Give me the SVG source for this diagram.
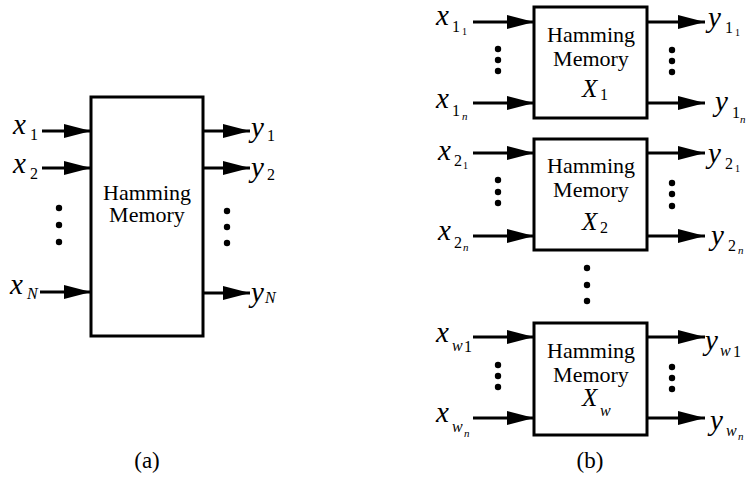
<svg xmlns="http://www.w3.org/2000/svg" width="746" height="481" viewBox="0 0 746 481">
<defs>
<marker id="ah" markerUnits="userSpaceOnUse" markerWidth="28" markerHeight="14" refX="27" refY="7" orient="auto" viewBox="0 0 28 14">
<path d="M0,0 L27,7 L0,14 z" fill="#000"/>
</marker>
<style>
.box{fill:#fff;stroke:#000;stroke-width:3}
.arr{stroke:#000;stroke-width:3;fill:none;marker-end:url(#ah)}
.t{font-family:"Liberation Serif","Times New Roman",serif;font-size:22px;fill:#000;text-anchor:middle}
.v{font-family:"Liberation Serif","Times New Roman",serif;font-size:29px;font-style:italic;fill:#000}
.X{font-family:"Liberation Serif","Times New Roman",serif;font-size:25px;font-style:italic;fill:#000}
.s{font-family:"Liberation Serif","Times New Roman",serif;font-size:16px;fill:#000}
.si{font-family:"Liberation Serif","Times New Roman",serif;font-size:16px;font-style:italic;fill:#000}
.ss{font-family:"Liberation Serif","Times New Roman",serif;font-size:10px;fill:#000}
.ssi{font-family:"Liberation Serif","Times New Roman",serif;font-size:11px;font-style:italic;fill:#000}
.cap{font-family:"Liberation Serif","Times New Roman",serif;font-size:23px;fill:#000;text-anchor:middle}
</style>
</defs>

<g id="connectors">
<line class="arr" x1="42" y1="131" x2="91" y2="131"/>
<line class="arr" x1="42" y1="168" x2="91" y2="168"/>
<line class="arr" x1="40" y1="292" x2="91" y2="292"/>
<line class="arr" x1="203" y1="131" x2="250" y2="131"/>
<line class="arr" x1="203" y1="168" x2="250" y2="168"/>
<line class="arr" x1="203" y1="293" x2="250" y2="293"/>

<line class="arr" x1="473" y1="22" x2="534" y2="22"/>
<line class="arr" x1="473" y1="103" x2="534" y2="103"/>
<line class="arr" x1="647" y1="22" x2="705" y2="22"/>
<line class="arr" x1="647" y1="103" x2="705" y2="103"/>

<line class="arr" x1="473" y1="153" x2="534" y2="153"/>
<line class="arr" x1="473" y1="236" x2="534" y2="236"/>
<line class="arr" x1="647" y1="153" x2="705" y2="153"/>
<line class="arr" x1="647" y1="236" x2="705" y2="236"/>

<line class="arr" x1="473" y1="337" x2="534" y2="337"/>
<line class="arr" x1="473" y1="418" x2="534" y2="418"/>
<line class="arr" x1="647" y1="337" x2="705" y2="337"/>
<line class="arr" x1="647" y1="418" x2="705" y2="418"/>
</g>

<g id="nodeA">
<rect class="box" x="91" y="97" width="112" height="239"/>
<text class="t" x="147" y="200">Hamming</text>
<text class="t" x="147" y="222">Memory</text>
</g>

<g id="labelsA">
<text class="v" x="13" y="134">x</text><text class="s" x="30" y="140">1</text>
<text class="v" x="13" y="173">x</text><text class="s" x="30" y="179">2</text>
<text class="v" x="10" y="294">x</text><text class="si" x="27" y="299">N</text>
<text class="v" x="251" y="137">y</text><text class="s" x="267" y="141">1</text>
<text class="v" x="251" y="177">y</text><text class="s" x="267" y="180">2</text>
<text class="v" x="251" y="302">y</text><text class="si" x="265" y="303">N</text>
<g fill="#000">
<circle cx="59" cy="208" r="3.2"/><circle cx="59" cy="225" r="3.2"/><circle cx="59" cy="242" r="3.2"/>
<circle cx="227" cy="211" r="3.2"/><circle cx="227" cy="227" r="3.2"/><circle cx="227" cy="243" r="3.2"/>
</g>
<text class="cap" x="147" y="468">(a)</text>
</g>

<g id="nodeB1">
<rect class="box" x="534" y="7" width="113" height="111"/>
<text class="t" x="591" y="42">Hamming</text>
<text class="t" x="591" y="66">Memory</text>
<text class="X" x="582" y="97">X</text><text class="s" x="600" y="100">1</text>
</g>

<g id="nodeB2">
<rect class="box" x="534" y="139" width="113" height="111"/>
<text class="t" x="591" y="173">Hamming</text>
<text class="t" x="591" y="197">Memory</text>
<text class="X" x="582" y="230">X</text><text class="s" x="600" y="233">2</text>
</g>

<g id="nodeB3">
<rect class="box" x="534" y="323" width="113" height="112"/>
<text class="t" x="591" y="358">Hamming</text>
<text class="t" x="591" y="382">Memory</text>
<text class="X" x="582" y="406">X</text><text class="si" x="600" y="416">w</text>
</g>

<g id="labelsB">
<text class="v" x="436" y="25">x</text><text class="s" x="452" y="32">1</text><text class="ss" x="462" y="35">1</text>
<text class="v" x="436" y="108">x</text><text class="s" x="452" y="116">1</text><text class="ssi" x="462" y="120">n</text>
<text class="v" x="708" y="27">y</text><text class="s" x="725" y="33">1</text><text class="ss" x="735" y="36">1</text>
<text class="v" x="715" y="111">y</text><text class="s" x="732" y="118">1</text><text class="ssi" x="740" y="123">n</text>

<text class="v" x="438" y="160">x</text><text class="s" x="454" y="166">2</text><text class="ss" x="463" y="169">1</text>
<text class="v" x="438" y="240">x</text><text class="s" x="454" y="248">2</text><text class="ssi" x="463" y="251">n</text>
<text class="v" x="708" y="163">y</text><text class="s" x="725" y="169">2</text><text class="ss" x="735" y="172">1</text>
<text class="v" x="711" y="245">y</text><text class="s" x="728" y="251">2</text><text class="ssi" x="738" y="254">n</text>

<text class="v" x="436" y="342">x</text><text class="si" x="452" y="351">w</text><text class="s" x="464" y="352">1</text>
<text class="v" x="436" y="422">x</text><text class="si" x="452" y="432">w</text><text class="ssi" x="464" y="437">n</text>
<text class="v" x="705" y="350">y</text><text class="si" x="720" y="356">w</text><text class="s" x="733" y="357">1</text>
<text class="v" x="710" y="430">y</text><text class="si" x="726" y="436">w</text><text class="ssi" x="738" y="440">n</text>

<g fill="#000">
<circle cx="498" cy="49" r="3.2"/><circle cx="498" cy="60" r="3.2"/><circle cx="498" cy="71" r="3.2"/>
<circle cx="672" cy="50" r="3.2"/><circle cx="672" cy="61" r="3.2"/><circle cx="672" cy="72" r="3.2"/>
<circle cx="498" cy="180" r="3.2"/><circle cx="498" cy="192" r="3.2"/><circle cx="498" cy="203" r="3.2"/>
<circle cx="672" cy="183" r="3.2"/><circle cx="672" cy="194" r="3.2"/><circle cx="672" cy="206" r="3.2"/>
<circle cx="498" cy="365" r="3.2"/><circle cx="498" cy="376" r="3.2"/><circle cx="498" cy="387" r="3.2"/>
<circle cx="672" cy="367" r="3.2"/><circle cx="672" cy="378" r="3.2"/><circle cx="672" cy="389" r="3.2"/>
<circle cx="587" cy="268" r="3.2"/><circle cx="587" cy="285" r="3.2"/><circle cx="587" cy="301" r="3.2"/>
</g>
<text class="cap" x="590" y="468">(b)</text>
</g>
</svg>
